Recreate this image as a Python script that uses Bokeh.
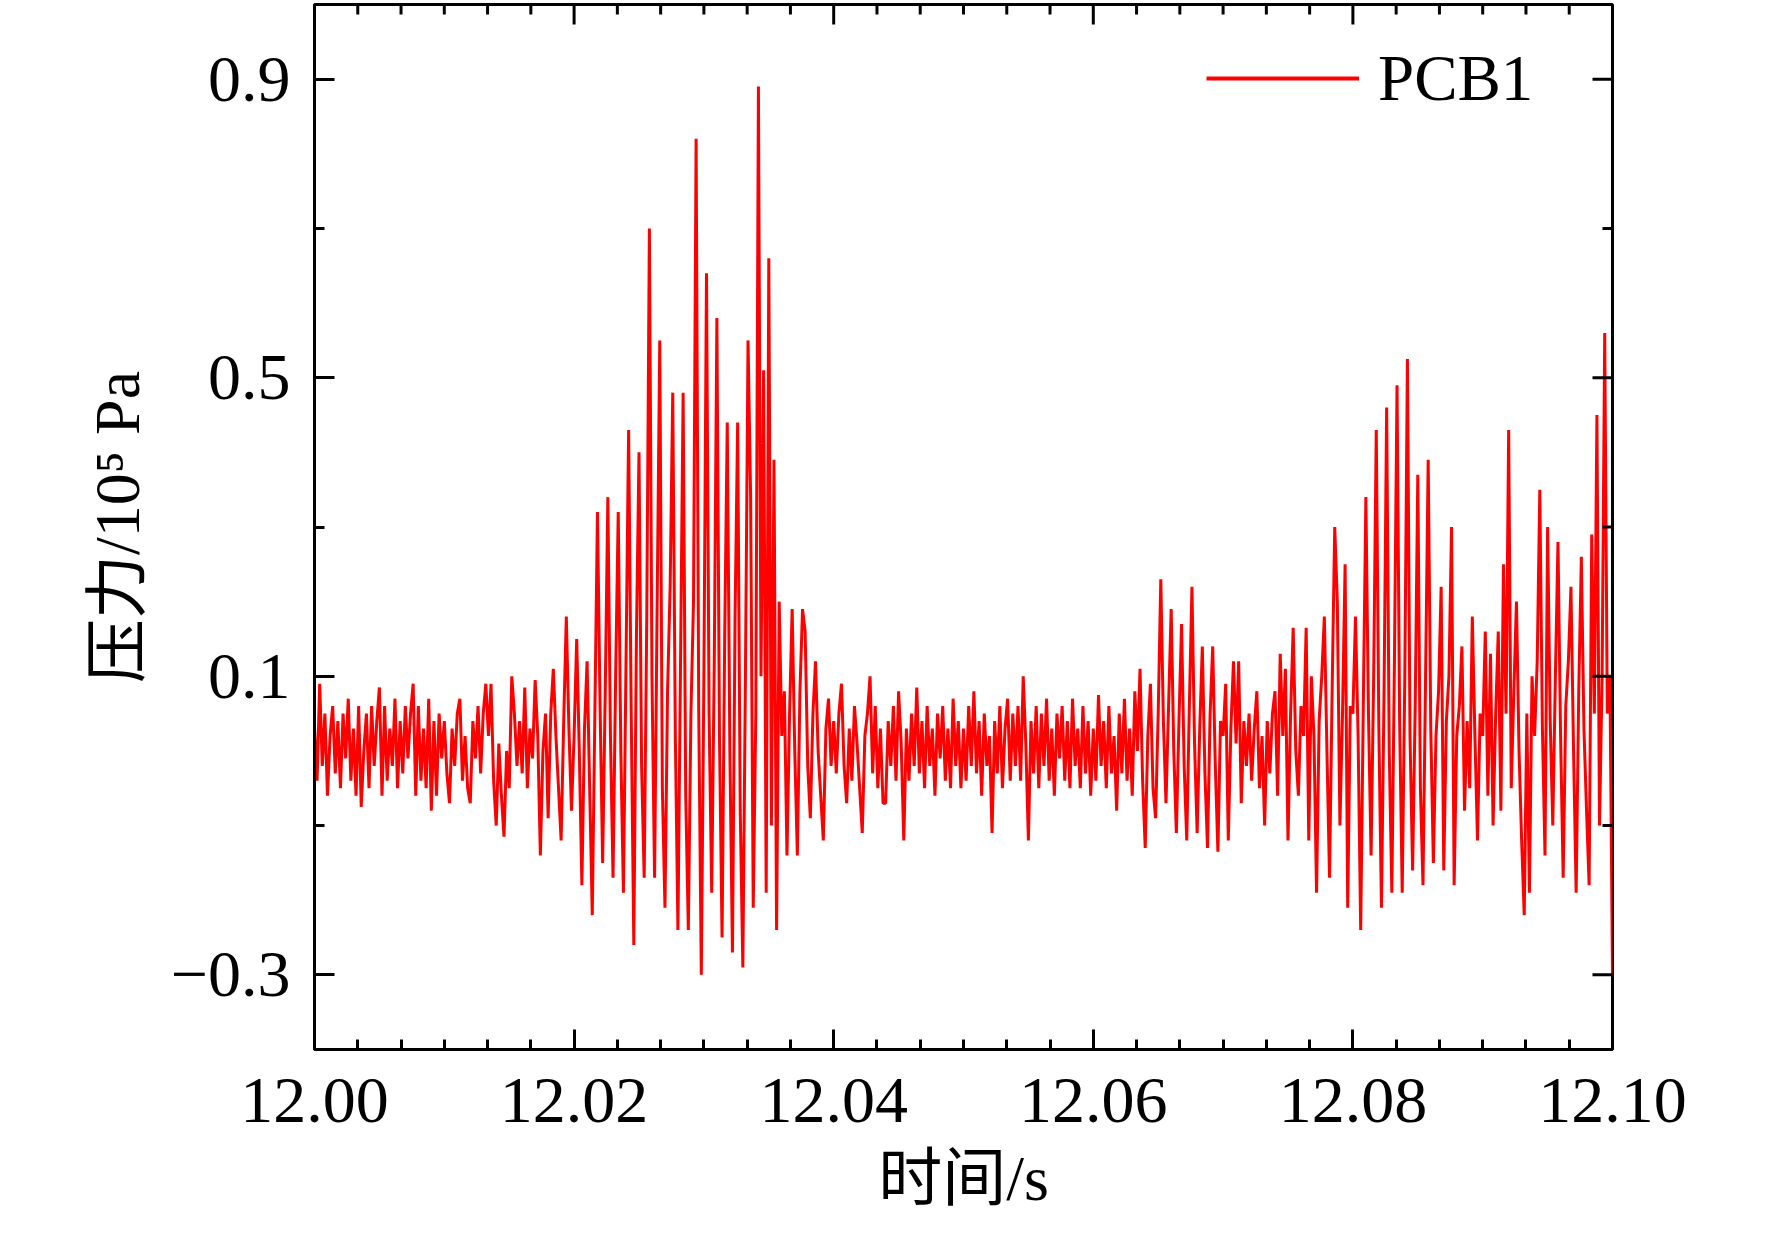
from bokeh.plotting import figure
from bokeh.models import FixedTicker, CustomJSTickFormatter, Legend, LegendItem, Title
from bokeh.embed import file_html
from bokeh.resources import INLINE

# ---- data: PCB1 pressure (10^5 Pa), sampled every 0.0002 s from 12.000 s ----
t_start = 12.0
dt = 0.0002

p_1200 = [0.03, -0.04, 0.09, -0.02, 0.05, -0.06, 0.02, 0.06, -0.03, 0.04,
          -0.05, 0.05, -0.01, 0.07, -0.04, 0.03, -0.06, 0.06, -0.075, 0.00,
          0.05, -0.05, 0.06, -0.02, 0.04, 0.085, -0.06, 0.06, -0.04, 0.03,
          -0.02, 0.07, -0.05, 0.04, -0.03, 0.06, -0.01, 0.05, 0.09, -0.06,
          0.06, -0.04, 0.03, -0.05, 0.07, -0.08, 0.04, -0.06, 0.05, -0.01]
p_1201 = [0.04, -0.03, -0.07, 0.03, -0.02, 0.05, 0.07, -0.04, 0.02, -0.05,
          -0.07, 0.04, -0.01, 0.06, -0.03, 0.05, 0.09, 0.02, 0.09, -0.04,
          -0.10, 0.01, -0.06, -0.115, 0.00, -0.05, 0.10, 0.05, -0.02, 0.04,
          -0.03, 0.085, -0.05, 0.03, -0.01, 0.095, 0.02, -0.14, 0.00, 0.05,
          -0.09, 0.05, 0.11, 0.02, -0.05, -0.12, 0.04, 0.18, 0.03, -0.08]
p_1202 = [0.02, 0.15, 0.00, -0.18, 0.03, 0.12, -0.05, -0.22, 0.05, 0.32,
          0.06, -0.15, 0.08, 0.34, 0.02, -0.17, 0.10, 0.32, 0.00, -0.19,
          0.12, 0.43, 0.05, -0.26, 0.15, 0.40, -0.02, -0.17, 0.18, 0.70,
          0.10, -0.17, 0.20, 0.55, -0.05, -0.21, 0.08, 0.22, 0.48, 0.02,
          -0.24, 0.12, 0.48, -0.06, -0.24, 0.05, 0.20, 0.82, 0.06, -0.30]
p_1203 = [0.10, 0.64, 0.05, -0.19, 0.12, 0.58, 0.02, -0.25, 0.15, 0.44,
          0.00, -0.27, 0.18, 0.44, -0.08, -0.29, 0.10, 0.55, 0.34, -0.21,
          0.05, 0.89, 0.10, 0.51, -0.19, 0.66, -0.10, 0.39, -0.24, 0.20,
          0.02, 0.08, -0.14, 0.05, 0.19, 0.00, -0.14, 0.08, 0.19, 0.16,
          -0.02, -0.09, 0.05, 0.12, 0.00, -0.06, -0.12, 0.03, 0.07, -0.02]
p_1204 = [0.04, -0.03, 0.05, 0.09, -0.02, -0.07, 0.03, -0.04, 0.06, 0.01,
          -0.05, -0.11, 0.02, 0.05, 0.10, -0.03, 0.06, -0.05, 0.03, -0.07,
          -0.07, 0.04, -0.02, 0.06, -0.04, 0.08, 0.01, -0.12, 0.03, -0.04,
          0.05, -0.02, 0.085, -0.03, 0.04, -0.05, 0.06, -0.02, 0.03, -0.06,
          0.05, -0.01, 0.06, -0.04, 0.03, -0.05, 0.07, -0.02, 0.04, -0.05]
p_1205 = [0.03, -0.04, 0.06, -0.02, 0.08, -0.03, 0.04, -0.06, 0.05, -0.02,
          0.02, -0.11, 0.04, -0.03, 0.06, -0.05, 0.03, 0.07, -0.04, 0.05,
          -0.02, 0.06, -0.04, 0.10, 0.01, -0.12, 0.04, -0.03, 0.06, -0.05,
          0.05, -0.02, 0.07, -0.04, 0.03, -0.06, 0.05, -0.01, 0.06, -0.04,
          0.04, -0.05, 0.07, -0.02, 0.03, -0.05, 0.06, -0.03, 0.04, -0.06]
p_1206 = [0.03, -0.04, 0.075, -0.02, 0.04, -0.05, 0.06, -0.03, 0.02, -0.08,
          0.05, -0.03, 0.07, -0.04, 0.03, -0.06, 0.08, 0.00, 0.11, -0.04,
          -0.13, 0.02, 0.09, -0.05, -0.09, 0.05, 0.23, 0.04, -0.07, 0.06,
          0.19, 0.00, -0.11, 0.04, 0.17, -0.02, -0.12, 0.06, 0.22, 0.01,
          -0.11, 0.03, 0.14, -0.03, -0.13, 0.05, 0.14, -0.02, -0.135, 0.04]
p_1207 = [0.02, 0.09, -0.12, 0.03, 0.12, 0.01, 0.12, -0.07, 0.04, -0.02,
          0.05, -0.04, 0.03, 0.08, -0.05, 0.02, -0.10, 0.04, -0.03, 0.05,
          0.08, -0.06, 0.13, 0.02, 0.11, -0.12, 0.05, 0.165, 0.00, -0.06,
          0.06, 0.02, 0.165, -0.12, 0.10, 0.02, -0.19, 0.04, 0.10, 0.18,
          0.00, -0.17, 0.08, 0.30, 0.20, -0.10, 0.05, 0.25, -0.21, 0.06]
p_1208 = [0.05, 0.18, 0.02, -0.24, 0.06, 0.34, 0.05, -0.14, 0.10, 0.43,
          0.03, -0.21, 0.08, 0.46, 0.00, -0.19, 0.12, 0.49, 0.04, -0.19,
          0.10, 0.525, 0.02, -0.16, 0.06, 0.37, -0.05, -0.18, 0.10, 0.39,
          0.03, -0.15, 0.02, 0.08, 0.22, -0.16, 0.04, 0.10, 0.30, -0.18,
          0.02, 0.06, 0.14, -0.08, 0.04, -0.05, 0.18, 0.02, -0.12, 0.05]
p_1209 = [0.02, 0.16, -0.06, 0.13, -0.10, 0.05, 0.16, -0.08, 0.25, 0.05,
          0.43, -0.05, 0.08, 0.20, 0.00, -0.12, -0.22, 0.05, -0.19, 0.10,
          0.02, 0.12, 0.35, 0.03, -0.14, 0.30, 0.04, -0.10, 0.10, 0.28,
          0.02, -0.17, 0.06, 0.12, 0.22, 0.00, -0.19, 0.08, 0.26, 0.03,
          -0.08, -0.18, 0.29, 0.05, 0.45, -0.10, 0.10, 0.56, 0.05, 0.10]
p_1210 = [-0.30]

x_major = [12.00, 12.02, 12.04, 12.06, 12.08, 12.10]
y_major = [-0.3, 0.1, 0.5, 0.9]
y_minor = [-0.1, 0.3, 0.7]
series_name = "PCB1"
x_title = "时间/s"
y_title = "压力/10⁵ Pa"

pressure = (p_1200 + p_1201 + p_1202 + p_1203 + p_1204 +
            p_1205 + p_1206 + p_1207 + p_1208 + p_1209 + p_1210)
time = [t_start + dt * i for i in range(len(pressure))]
x_minor = [12.0 + k * 0.02 / 6 for k in range(31) if k % 6 != 0]

X0, X1 = 12.0, 12.1
Y0, Y1 = -0.4, 1.0
SERIF = "Liberation Serif, Noto Sans CJK SC"

p = figure(width=1750, height=1230, x_range=(X0, X1), y_range=(Y0, Y1),
           output_backend="svg", toolbar_location=None,
           min_border_left=314, min_border_right=138,
           min_border_top=4, min_border_bottom=181)
p.grid.visible = False
p.outline_line_color = "black"
p.outline_line_width = 3
p.background_fill_color = "white"
p.border_fill_color = "white"

r = p.line(time, pressure, line_color="#ff0000", line_width=3)
leg_r = p.line(x=[float("nan")], y=[float("nan")], line_color="#ff0000", line_width=4)

xfmt = CustomJSTickFormatter(code="return tick.toFixed(2);")
yfmt = CustomJSTickFormatter(code="return (tick < 0 ? '\u2212' : '') + Math.abs(tick).toFixed(1);")


def style(ax, ticker, fmt):
    ax.ticker = ticker
    ax.formatter = fmt
    ax.major_tick_in = 20
    ax.major_tick_out = 0
    ax.minor_tick_in = 10
    ax.minor_tick_out = 0
    ax.major_tick_line_width = 3
    ax.minor_tick_line_width = 3
    ax.axis_line_width = 3
    ax.major_tick_line_color = "black"
    ax.minor_tick_line_color = "black"
    ax.axis_line_color = "black"
    ax.major_label_text_font = "Liberation Serif"
    ax.major_label_text_font_size = "66px"
    ax.major_label_text_color = "black"
    ax.axis_label_text_font = SERIF
    ax.axis_label_text_font_size = "64px"
    ax.axis_label_text_font_style = "normal"
    ax.axis_label_text_color = "black"


xa = p.xaxis[0]
ya = p.yaxis[0]
style(xa, FixedTicker(ticks=x_major, minor_ticks=x_minor), xfmt)
style(ya, FixedTicker(ticks=y_major, minor_ticks=y_minor), yfmt)
xa.major_label_standoff = 29
ya.axis_label = y_title
ya.major_label_standoff = 24
ya.axis_label_standoff = 15

# x-axis title, stacked under the tick labels
p.add_layout(Title(text=x_title, align="center", text_font=SERIF,
                   text_font_size="64px", text_font_style="normal",
                   text_color="black", standoff=33), "below")

# inward ticks on the top and right edges (mirroring the bottom/left axes)
tick_kw = dict(length_units="screen", angle_units="deg", line_color="black", line_width=3)
p.ray(x=x_major, y=[Y1] * len(x_major), length=20, angle=-90, **tick_kw)
p.ray(x=x_minor, y=[Y1] * len(x_minor), length=10, angle=-90, **tick_kw)
p.ray(x=[X1] * len(y_major), y=y_major, length=20, angle=180, **tick_kw)
p.ray(x=[X1] * len(y_minor), y=y_minor, length=10, angle=180, **tick_kw)

legend = Legend(items=[LegendItem(label=series_name, renderers=[leg_r])],
                location=(892, 932), border_line_color=None,
                background_fill_alpha=0, label_text_font="Liberation Serif",
                label_text_color="black",
                label_text_font_size="65px", glyph_width=153, glyph_height=78,
                label_height=78, label_standoff=19, padding=0, margin=0, spacing=0)
p.add_layout(legend)

open("out.html", "w").write(file_html(p, INLINE))
